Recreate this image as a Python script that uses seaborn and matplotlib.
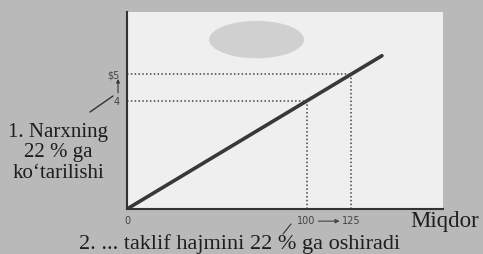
import matplotlib
matplotlib.use("Agg")
import matplotlib.pyplot as plt
import seaborn as sns
import pandas as pd
from matplotlib.patches import Ellipse

# data
supply_qty = [0, 142]
supply_price = [0, 5.68]
old_qty, new_qty = 100, 125
old_price, new_price = 4, 5
xtick_vals = [0, 100, 125]
xtick_labels = ["0", "100", "125"]
ytick_vals = [4, 5]
ytick_labels = ["4", "$5"]

sns.set_theme(style="white")
plt.rcParams['font.family'] = ['Liberation Serif', 'DejaVu Serif']

bg = "#b9b9b9"
fig = plt.figure(figsize=(4.83, 2.54), dpi=100, facecolor=bg)
ax = fig.add_axes([127/483, 1 - 209/254, (443-127)/483, (209-12)/254])
ax.set_facecolor("#efefef")

df = pd.DataFrame({"q": supply_qty, "p": supply_price})
sns.lineplot(data=df, x="q", y="p", ax=ax, color="#383838", linewidth=2.6)

ax.set_xlim(0, 176)
ax.set_ylim(0, 7.3)

# cloud artifact
ax.add_patch(Ellipse((0.41, 0.86), 0.30, 0.19, transform=ax.transAxes,
                     color="#c9c9c9", alpha=0.8, zorder=0.5, lw=0))

dot = dict(color="#444444", linestyle=(0, (1, 1.5)), linewidth=1.1)
ax.plot([0, new_qty], [new_price, new_price], **dot)
ax.plot([0, old_qty], [old_price, old_price], **dot)
ax.plot([old_qty, old_qty], [0, old_price], **dot)
ax.plot([new_qty, new_qty], [0, new_price], **dot)

for s in ["top", "right"]:
    ax.spines[s].set_visible(False)
for s in ["left", "bottom"]:
    ax.spines[s].set_color("#333333")
    ax.spines[s].set_linewidth(1.5)

ax.set_xticks(xtick_vals)
ax.set_xticklabels(xtick_labels, fontfamily="DejaVu Sans", fontsize=7, color="#444444")
ax.set_yticks(ytick_vals)
ax.set_yticklabels(ytick_labels, fontfamily="DejaVu Sans", fontsize=7, color="#444444")
ax.tick_params(length=0, pad=5)
ax.set_xlabel("")
ax.set_ylabel("")

# arrow between 100 and 125
ax.annotate("", xy=(120, -0.45), xytext=(105, -0.45), xycoords="data",
            arrowprops=dict(arrowstyle="-|>", color="#444444", lw=0.8, mutation_scale=6),
            annotation_clip=False)
# up arrow between 4 and $5
ax.annotate("", xy=(-5, 4.92), xytext=(-5, 4.2),
            arrowprops=dict(arrowstyle="-|>", color="#333333", lw=0.8, mutation_scale=5),
            annotation_clip=False)

tc = "#1e1e1e"
fig.text(58/483, 1 - 153/254, "1. Narxning\n22 % ga\nko‘tarilishi", ha="center", va="center",
         fontsize=15, color=tc, linespacing=1.12)
fig.text(445/483, 1 - 221/254, "Miqdor", ha="center", va="center", fontsize=16.5, color=tc)
fig.text(240/483, 1 - 244/254, "2. ... taklif hajmini 22 % ga oshiradi", ha="center", va="center",
         fontsize=16, color=tc)

# pointer lines
fig.add_artist(plt.Line2D([90/483, 113/483], [1 - 112/254, 1 - 96/254], color="#333333", lw=1))
fig.add_artist(plt.Line2D([283/483, 291/483], [1 - 234/254, 1 - 224/254], color="#333333", lw=0.8))

fig.savefig("out.png", dpi=100, facecolor=bg)
